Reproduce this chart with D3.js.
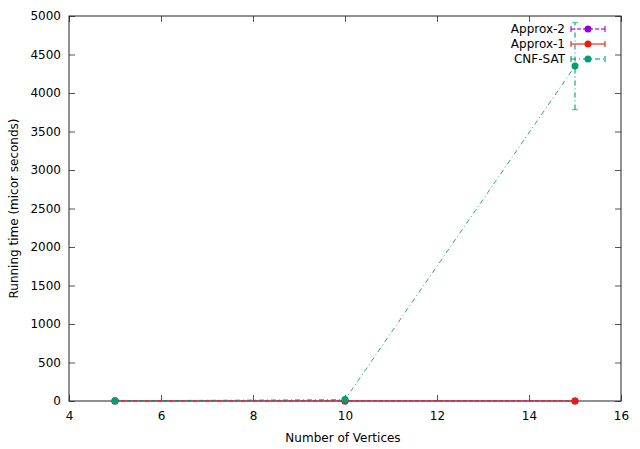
<!DOCTYPE html>
<html><head><meta charset="utf-8">
<script src="https://cdn.jsdelivr.net/npm/d3@7"></script>
<style>body{margin:0;background:#fff}svg{display:block}text{font-family:"DejaVu Sans",sans-serif;font-size:12px;fill:#000}</style>
</head><body><svg id="c" width="640" height="449"></svg>
<script>
const xTicks = [4, 6, 8, 10, 12, 14, 16];
const yTicks = [0, 500, 1000, 1500, 2000, 2500, 3000, 3500, 4000, 4500, 5000];
const vertices = [5, 10, 15];
const seriesNames = ["Approx-2", "Approx-1", "CNF-SAT"];
const seriesColors = ["#9400d3", "#e51e10", "#009e73"];
const seriesDash = ["4,2", null, "5,3,1,3"];
const approx2Mean = [1, 1, 1];
const approx2Low = [0, 0, 0];
const approx2High = [2, 2, 2];
const approx1Mean = [1, 1, 1];
const approx1Low = [0, 0, 0];
const approx1High = [2, 2, 2];
const cnfMean = [3, 18, 4350];
const cnfLow = [1, 5, 3785];
const cnfHigh = [5, 40, 4915];

const svg = d3.select("#c");
const L = 69, R = 621, T = 16, B = 401;
const x = d3.scaleLinear().domain([4, 16]).range([L, R]);
const y = d3.scaleLinear().domain([0, 5000]).range([B, T]);

const series = [
  {mean: approx2Mean, low: approx2Low, high: approx2High},
  {mean: approx1Mean, low: approx1Low, high: approx1High},
  {mean: cnfMean, low: cnfLow, high: cnfHigh}
];

const gx = svg.append("g").attr("transform", `translate(0,${B})`)
  .call(d3.axisBottom(x).tickValues(xTicks).tickSize(-6).tickPadding(10).tickFormat(d3.format("d")));
const gxt = svg.append("g").attr("transform", `translate(0,${T})`)
  .call(d3.axisTop(x).tickValues(xTicks).tickSize(-6).tickFormat(""));
const gy = svg.append("g").attr("transform", `translate(${L},0)`)
  .call(d3.axisLeft(y).tickValues(yTicks).tickSize(-6).tickPadding(8).tickFormat(d3.format("d")));
const gyr = svg.append("g").attr("transform", `translate(${R},0)`)
  .call(d3.axisRight(y).tickValues(yTicks).tickSize(-6).tickFormat(""));
[gx, gxt, gy, gyr].forEach(g => {
  g.select(".domain").remove();
  g.selectAll(".tick line").attr("stroke", "#555");
  g.selectAll("text").style("font-size", "12px").style("font-family", "DejaVu Sans").attr("fill", "#000");
});
svg.append("rect").attr("x", L).attr("y", T).attr("width", R - L).attr("height", B - T)
  .attr("fill", "none").attr("stroke", "#222").attr("stroke-width", 1);

svg.append("text").attr("x", (L + R) / 2 - 2).attr("y", 442).attr("text-anchor", "middle").text("Number of Vertices");
svg.append("text").attr("transform", `translate(18,${(T + B) / 2}) rotate(-90)`).attr("text-anchor", "middle").text("Running time (micor seconds)");

const line = d3.line().x(d => x(d[0])).y(d => y(d[1]));

series.forEach((s, i) => {
  const g = svg.append("g");
  const c = seriesColors[i];
  const pts = vertices.map((v, j) => [v, s.mean[j]]);
  g.append("path").attr("d", line(pts)).attr("fill", "none").attr("stroke", c)
    .attr("stroke-width", 1).attr("stroke-opacity", 0.85).attr("stroke-dasharray", seriesDash[i]);
  vertices.forEach((v, j) => {
    const y1 = y(s.low[j]), y2 = y(s.high[j]);
    if (Math.abs(y1 - y2) > 2) {
      g.append("line").attr("x1", x(v)).attr("x2", x(v)).attr("y1", y1).attr("y2", y2)
        .attr("stroke", c).attr("stroke-opacity", 0.55).attr("stroke-width", 2).attr("stroke-dasharray", seriesDash[i]);
      [y1, y2].forEach(yy => g.append("line").attr("x1", x(v) - 3).attr("x2", x(v) + 3).attr("y1", yy).attr("y2", yy)
        .attr("stroke", c).attr("stroke-opacity", 0.55).attr("stroke-width", 1.5));
    }
  });
  g.selectAll("circle").data(pts).join("circle").attr("cx", d => x(d[0])).attr("cy", d => y(d[1]))
    .attr("r", 3.5).attr("fill", c);
});

seriesNames.forEach((n, i) => {
  const yy = 29 + i * 15;
  const c = seriesColors[i];
  svg.append("text").attr("x", 565).attr("y", yy + 4).attr("text-anchor", "end").text(n);
  const g = svg.append("g").attr("stroke", c).attr("stroke-opacity", 0.55).attr("stroke-width", 2);
  g.append("line").attr("x1", 571).attr("x2", 605).attr("y1", yy).attr("y2", yy).attr("stroke-dasharray", seriesDash[i]);
  g.append("line").attr("x1", 571).attr("x2", 571).attr("y1", yy - 3).attr("y2", yy + 3);
  g.append("line").attr("x1", 605).attr("x2", 605).attr("y1", yy - 3).attr("y2", yy + 3);
  svg.append("circle").attr("cx", 588).attr("cy", yy).attr("r", 3.5).attr("fill", c);
});
</script></body></html>
